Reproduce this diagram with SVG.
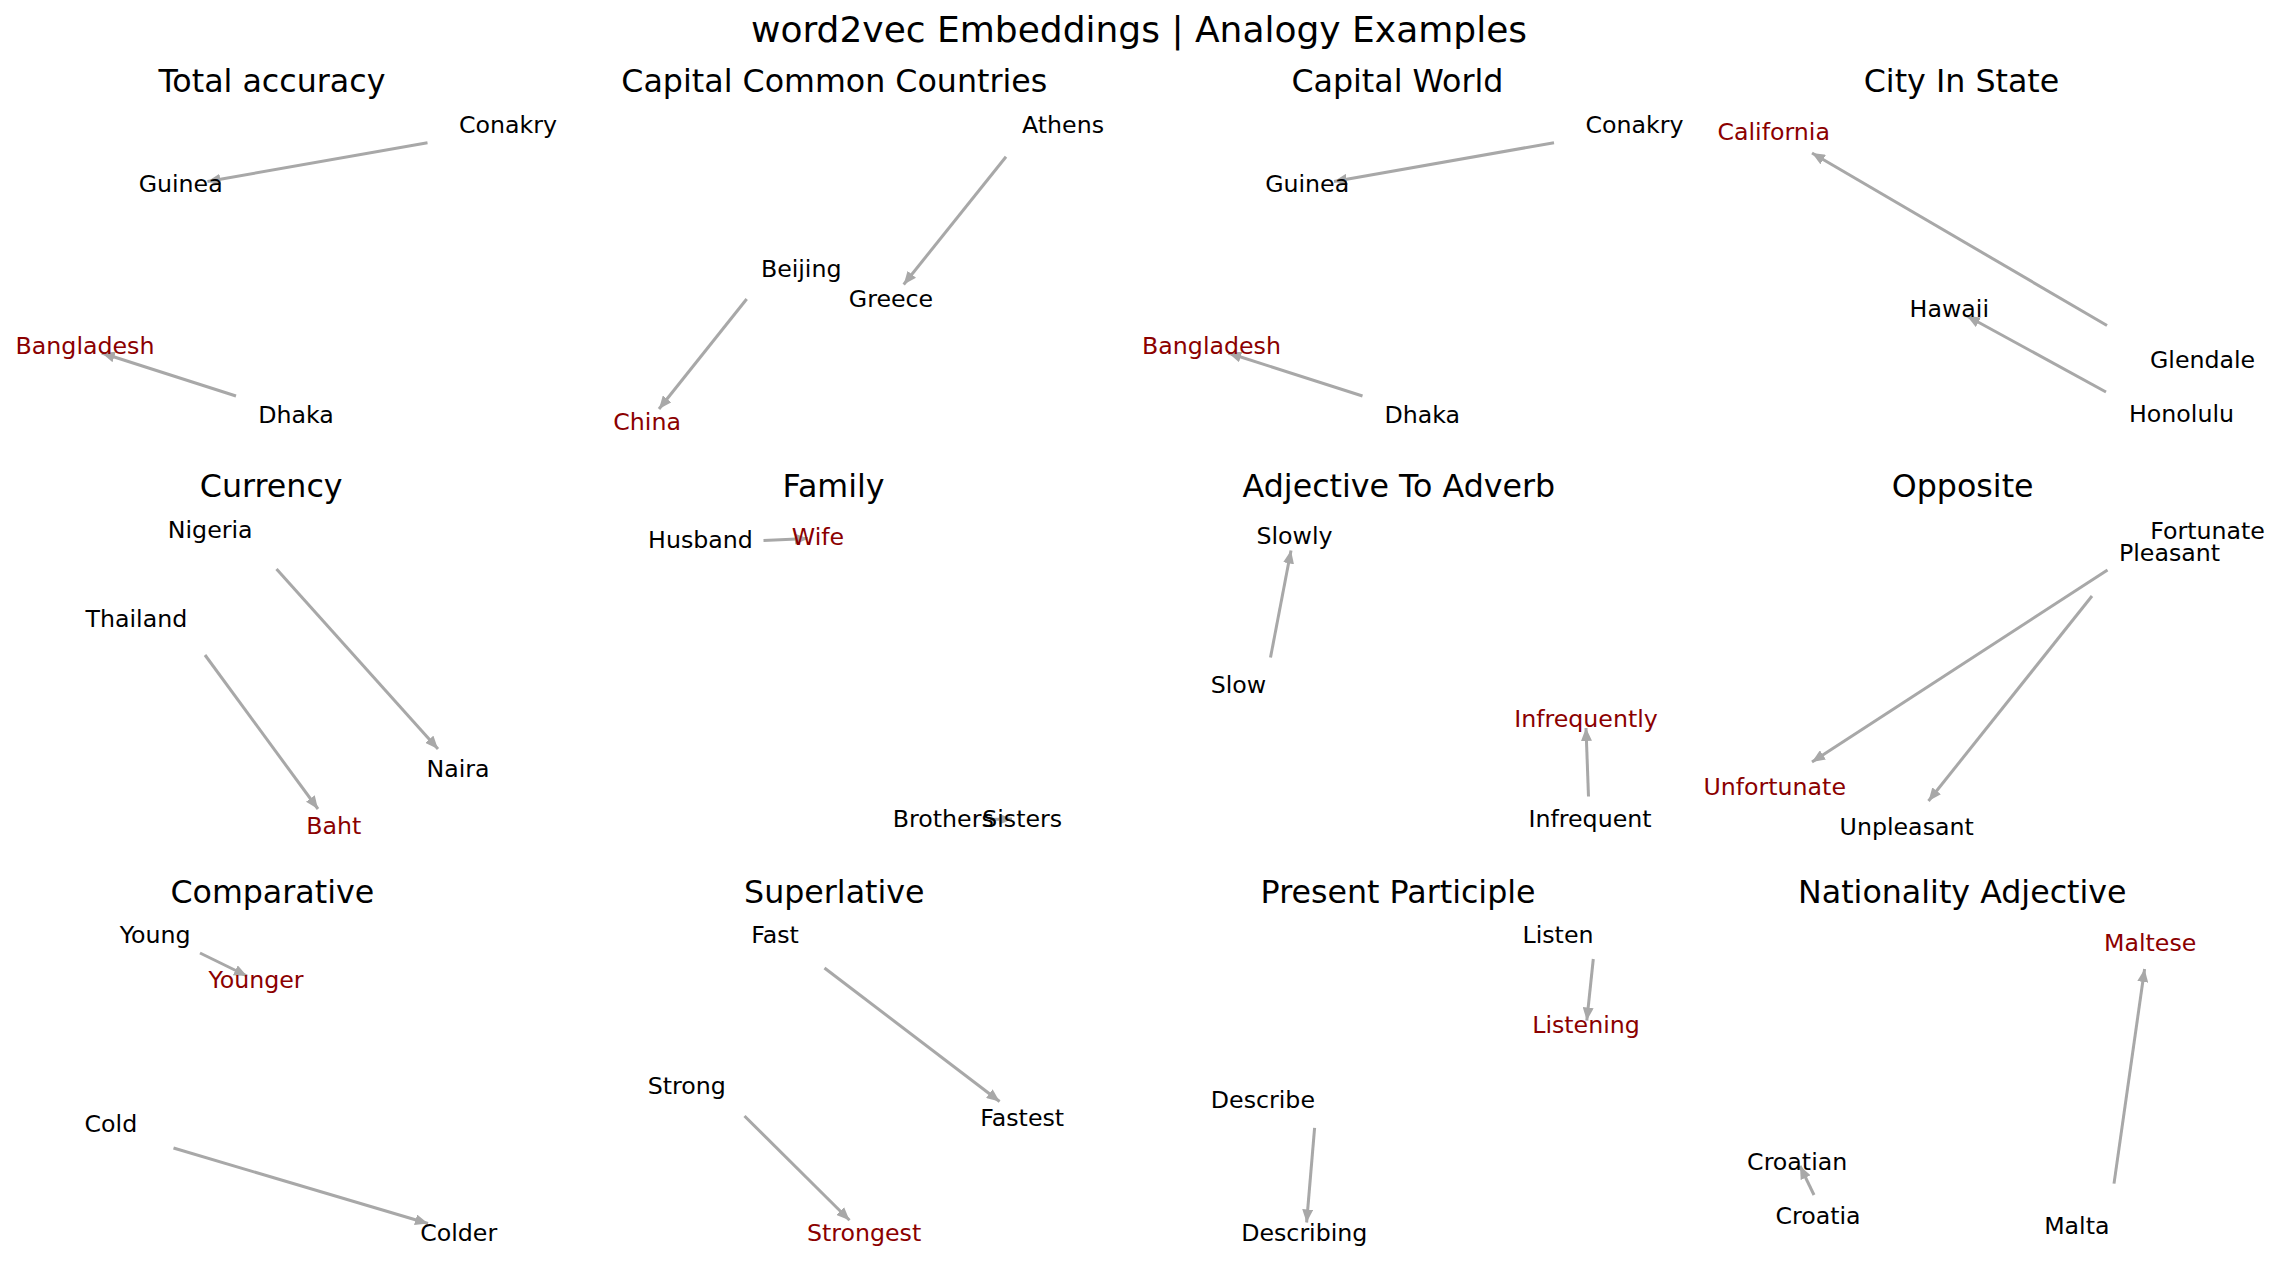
<svg xmlns="http://www.w3.org/2000/svg" width="2278" height="1277" viewBox="0 0 2278 1277">
<style>
text{font-family:"DejaVu Sans","Liberation Sans",sans-serif;text-anchor:middle;fill:#000}
.sup{font-size:36px}
.ttl{font-size:31.7px}
.lbl{font-size:23.7px}
.tgt{fill:#8b0000}
.arr{stroke:#a8a8a8;stroke-width:3;fill:none;marker-end:url(#ah)}
</style>
<defs>
<marker id="ah" markerUnits="userSpaceOnUse" markerWidth="14" markerHeight="11" refX="13" refY="5.5" orient="auto">
<path d="M0,0 L13,5.5 L0,11 z" fill="#a8a8a8"/>
</marker>
</defs>
<rect width="2278" height="1277" fill="#fff"/>
<g id="connectors">
<line class="arr" x1="427.5" y1="142.7" x2="207.5" y2="181.5"/>
<line class="arr" x1="236" y1="396" x2="101.8" y2="353"/>
<line class="arr" x1="1006" y1="156.8" x2="903.7" y2="284.5"/>
<line class="arr" x1="746.7" y1="299" x2="659" y2="409"/>
<line class="arr" x1="1554" y1="142.7" x2="1334" y2="181.5"/>
<line class="arr" x1="1362.5" y1="396" x2="1228.3" y2="353"/>
<line class="arr" x1="2107" y1="325.5" x2="1812" y2="153"/>
<line class="arr" x1="2106" y1="392" x2="1967" y2="316"/>
<line class="arr" x1="276.5" y1="569" x2="438" y2="749"/>
<line class="arr" x1="205" y1="655" x2="318" y2="809"/>
<line class="arr" x1="763.5" y1="540.5" x2="808" y2="538.5"/>
<line class="arr" x1="990" y1="819.5" x2="1012" y2="819"/>
<line class="arr" x1="1270.5" y1="657.5" x2="1291" y2="550.5"/>
<line class="arr" x1="1588.5" y1="796.5" x2="1586" y2="728"/>
<line class="arr" x1="2107.5" y1="570" x2="1812" y2="762"/>
<line class="arr" x1="2092" y1="596" x2="1928.5" y2="801"/>
<line class="arr" x1="200" y1="953" x2="247" y2="976"/>
<line class="arr" x1="173.5" y1="1148" x2="428" y2="1223.5"/>
<line class="arr" x1="824.5" y1="968" x2="999.6" y2="1101.5"/>
<line class="arr" x1="744.5" y1="1116" x2="849.5" y2="1220.2"/>
<line class="arr" x1="1593.3" y1="959" x2="1586.8" y2="1020.6"/>
<line class="arr" x1="1314.6" y1="1127.8" x2="1306.6" y2="1222.5"/>
<line class="arr" x1="1814" y1="1195" x2="1800" y2="1166"/>
<line class="arr" x1="2114" y1="1183.6" x2="2144.6" y2="969"/>
</g>
<text class="sup" x="1139" y="41.5">word2vec Embeddings | Analogy Examples</text>
<g id="panel-total-accuracy">
<text class="ttl" x="271.9" y="91.5">Total accuracy</text>
<text class="lbl" x="507.9" y="132.5">Conakry</text>
<text class="lbl" x="180.7" y="192.3">Guinea</text>
<text class="lbl tgt" x="85" y="354.3">Bangladesh</text>
<text class="lbl" x="296" y="422.5">Dhaka</text>
</g>
<g id="panel-capital-common-countries">
<text class="ttl" x="834.3" y="91.5">Capital Common Countries</text>
<text class="lbl" x="1063" y="132.7">Athens</text>
<text class="lbl" x="801.2" y="276.6">Beijing</text>
<text class="lbl" x="891" y="307.3">Greece</text>
<text class="lbl tgt" x="647.1" y="430">China</text>
</g>
<g id="panel-capital-world">
<text class="ttl" x="1397.4" y="91.5">Capital World</text>
<text class="lbl" x="1634.6" y="132.5">Conakry</text>
<text class="lbl" x="1307.2" y="192.3">Guinea</text>
<text class="lbl tgt" x="1211.5" y="354.3">Bangladesh</text>
<text class="lbl" x="1422.3" y="422.5">Dhaka</text>
</g>
<g id="panel-city-in-state">
<text class="ttl" x="1961.5" y="91.5">City In State</text>
<text class="lbl tgt" x="1773.7" y="140">California</text>
<text class="lbl" x="1949.3" y="316.6">Hawaii</text>
<text class="lbl" x="2202.6" y="368">Glendale</text>
<text class="lbl" x="2181.5" y="422.3">Honolulu</text>
</g>
<g id="panel-currency">
<text class="ttl" x="271.2" y="497">Currency</text>
<text class="lbl" x="210.2" y="538">Nigeria</text>
<text class="lbl" x="136.4" y="627.3">Thailand</text>
<text class="lbl" x="458" y="777.3">Naira</text>
<text class="lbl tgt" x="333.7" y="834">Baht</text>
</g>
<g id="panel-family">
<text class="ttl" x="833.6" y="497">Family</text>
<text class="lbl" x="700.5" y="548">Husband</text>
<text class="lbl tgt" x="818" y="544.6">Wife</text>
<text class="lbl" x="943.3" y="827.3">Brothers</text>
<text class="lbl" x="1022.2" y="826.7">Sisters</text>
</g>
<g id="panel-adjective-to-adverb">
<text class="ttl" x="1398.9" y="497">Adjective To Adverb</text>
<text class="lbl" x="1294.5" y="544">Slowly</text>
<text class="lbl" x="1238.5" y="693.3">Slow</text>
<text class="lbl tgt" x="1586" y="727.3">Infrequently</text>
<text class="lbl" x="1590" y="827.3">Infrequent</text>
</g>
<g id="panel-opposite">
<text class="ttl" x="1962.7" y="497">Opposite</text>
<text class="lbl" x="2207.6" y="539">Fortunate</text>
<text class="lbl" x="2169.5" y="561.3">Pleasant</text>
<text class="lbl tgt" x="1774.7" y="794.6">Unfortunate</text>
<text class="lbl" x="1906.7" y="834.6">Unpleasant</text>
</g>
<g id="panel-comparative">
<text class="ttl" x="272.3" y="903">Comparative</text>
<text class="lbl" x="155.2" y="943.3">Young</text>
<text class="lbl tgt" x="256" y="988.3">Younger</text>
<text class="lbl" x="110.9" y="1132.3">Cold</text>
<text class="lbl" x="458.7" y="1240.6">Colder</text>
</g>
<g id="panel-superlative">
<text class="ttl" x="834.3" y="903">Superlative</text>
<text class="lbl" x="775" y="943.3">Fast</text>
<text class="lbl" x="1022.2" y="1125.6">Fastest</text>
<text class="lbl" x="686.7" y="1094">Strong</text>
<text class="lbl tgt" x="864.1" y="1240.6">Strongest</text>
</g>
<g id="panel-present-participle">
<text class="ttl" x="1398.1" y="903">Present Participle</text>
<text class="lbl" x="1558" y="943.3">Listen</text>
<text class="lbl tgt" x="1586" y="1033.3">Listening</text>
<text class="lbl" x="1262.9" y="1108">Describe</text>
<text class="lbl" x="1304.3" y="1240.6">Describing</text>
</g>
<g id="panel-nationality-adjective">
<text class="ttl" x="1962.3" y="903">Nationality Adjective</text>
<text class="lbl tgt" x="2150.2" y="951.3">Maltese</text>
<text class="lbl" x="1797.2" y="1170">Croatian</text>
<text class="lbl" x="1818" y="1224">Croatia</text>
<text class="lbl" x="2076.8" y="1234">Malta</text>
</g>
</svg>
